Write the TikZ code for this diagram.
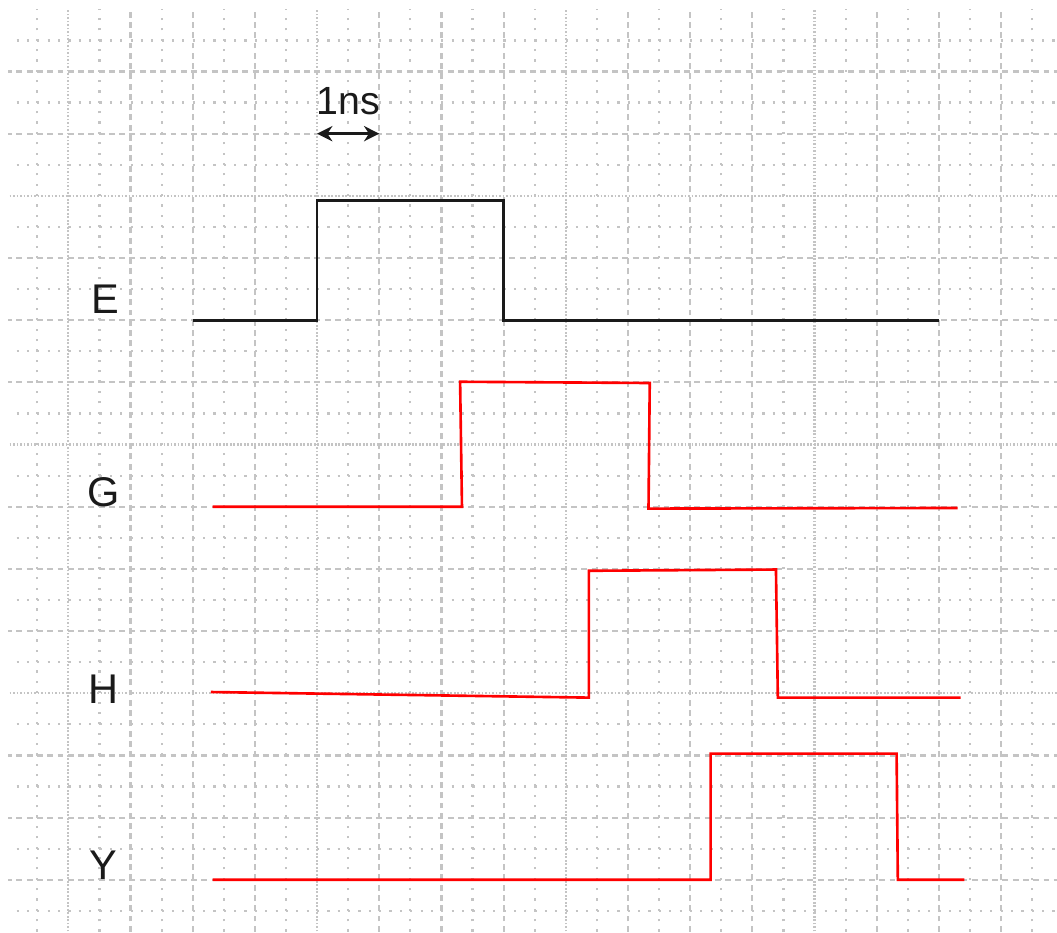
\documentclass[tikz,border=0pt]{standalone}
\usepackage{fontspec}
\setmainfont{Liberation Sans}
\usepackage{tikz}
\usetikzlibrary{arrows.meta, positioning, calc}
\definecolor{gridgray}{HTML}{C4C4C4}
\definecolor{sigred}{HTML}{FF0000}
\definecolor{inkblack}{HTML}{1A1A1A}

\begin{document}
\begin{tikzpicture}[
    major/.style={draw=gridgray, line width=1pt, dash pattern=on 2.7pt off 2pt},
    majordot/.style={draw=gridgray, line width=1pt, dash pattern=on 0.8pt off 0.8pt},
    minor/.style={draw=gridgray, line width=1pt, dash pattern=on 1pt off 3.74pt},
    wave/.style={line width=1.2pt, line join=miter},
    signame/.style={font=\fontsize{19}{19}\selectfont, text=inkblack},
    tick/.style={{Stealth[length=7pt, width=7pt]}-{Stealth[length=7pt, width=7pt]}, line width=1.1pt, inkblack},
]
    \useasboundingbox (-0.1,-0.85) rectangle (16.9,14.15);

    % grid
    \begin{scope}
        \clip (0.03,-0.85) rectangle (16.9,14);
        \foreach \x in {0.5,1.5,...,16.5}
            \draw[minor] (\x,-1) -- (\x,14);
        \foreach \y in {-0.5,0.5,...,13.5}
            \draw[minor] (0,\y) -- (17,\y);
        \foreach \x in {2,3,4,6,7,8,10,11,12,14,15,16}
            \draw[major] (\x,-1) -- (\x,14);
        \foreach \x in {1,5,9,13}
            \draw[majordot] (\x,-1) -- (\x,14);
        \foreach \y in {0,1,2,4,5,6,8,9,10,12,13}
            \draw[major] (0,\y) -- (17,\y);
        \foreach \y in {3,7,11}
            \draw[majordot] (0,\y) -- (17,\y);
    \end{scope}

    % time scale
    \coordinate (ns0) at (5,12);
    \coordinate (ns1) at (6,12);
    \draw[tick] (ns0) -- (ns1);
    \node[font=\fontsize{18}{18}\selectfont, text=inkblack, above=0.18cm of $(ns0)!0.5!(ns1)$] (nslabel) {1ns};

    % signal names
    \node[signame] (E) at (1.59,9.33) {E};
    \node[signame] (G) at (1.56,6.24) {G};
    \node[signame] (H) at (1.57,3.07) {H};
    \node[signame] (Y) at (1.56,0.24) {Y};

    % waveforms
    \draw[wave, inkblack] (3,9) -- (5,9) -- (5,10.93) -- (8,10.93) -- (8,9) -- (15.01,9);
    \draw[wave, sigred] (3.32,6.0) -- (7.33,6.0) -- (7.30,8.01) -- (10.35,7.99) -- (10.33,5.97) -- (15.30,5.98);
    \draw[wave, sigred] (3.29,3.02) -- (9.37,2.93) -- (9.37,4.97) -- (12.38,4.99) -- (12.41,2.93) -- (15.35,2.93);
    \draw[wave, sigred] (3.32,0) -- (11.33,0) -- (11.33,2.03) -- (14.32,2.03) -- (14.34,0) -- (15.41,0);
\end{tikzpicture}
\end{document}
